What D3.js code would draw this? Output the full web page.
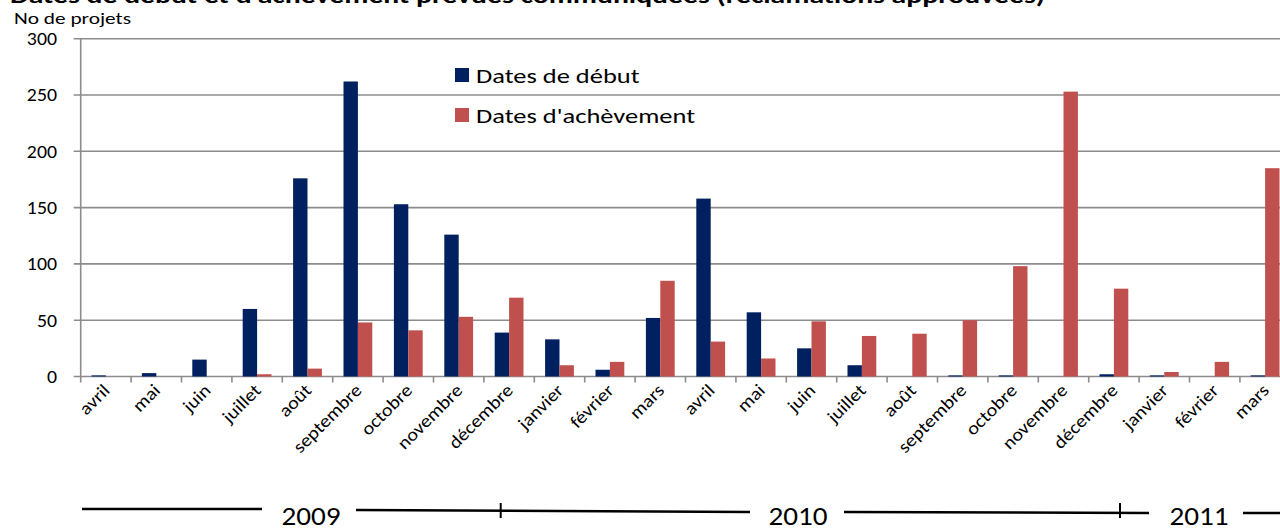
<!DOCTYPE html>
<html>
<head>
<meta charset="utf-8">
<script src="https://cdn.jsdelivr.net/npm/d3@7"></script>
<style>
  body { margin: 0; background: #fff; }
  svg { display: block; font-family: Carlito, Calibri, Lato, sans-serif; }
</style>
</head>
<body>
<svg id="chart" width="1280" height="530"></svg>
<script>
// months, April 2009 to March 2011
const months = ["avril", "mai", "juin", "juillet", "août", "septembre", "octobre", "novembre",
  "décembre", "janvier", "février", "mars", "avril", "mai", "juin", "juillet", "août",
  "septembre", "octobre", "novembre", "décembre", "janvier", "février", "mars"];

const startDates = [1, 3, 15, 60, 176, 262, 153, 126, 39, 33, 6, 52,
  158, 57, 25, 10, 0, 1, 1, 0, 2, 1, 0, 1];
const endDates = [0, 0, 0, 2, 7, 48, 41, 53, 70, 10, 13, 85,
  31, 16, 49, 36, 38, 50, 98, 253, 78, 4, 13, 185];

const seriesNames = ["Dates de début", "Dates d'achèvement"];
const yTicks = [0, 50, 100, 150, 200, 250, 300];
const years = ["2009", "2010", "2011"];

const colors = ["#002060", "#C0504D"];
const gridColor = "#8c8c8c";

const svg = d3.select("#chart");

const plotLeft = 80.7, plotRight = 1290.3, plotTop = 38.7, plotBottom = 376.5;

const x = d3.scaleBand()
  .domain(d3.range(months.length))
  .range([plotLeft, plotRight]);

const bw = x.bandwidth() / 3.5; // excel gap width 150%
const x1 = d3.scaleBand()
  .domain([0, 1])
  .range([(x.bandwidth() - 2 * bw) / 2, (x.bandwidth() + 2 * bw) / 2]);

const y = d3.scaleLinear().domain([0, 300]).range([plotBottom, plotTop]);

// the source picture is a bit wider than tall, so text is stretched
function stretch(sel, k) {
  sel.each(function () {
    const w = this.getComputedTextLength();
    d3.select(this).attr("textLength", w * k).attr("lengthAdjust", "spacingAndGlyphs");
  });
}

// title (cut at top in the original)
svg.append("text")
  .attr("x", 10)
  .attr("y", 3)
  .attr("font-weight", "bold")
  .attr("font-size", 22)
  .attr("textLength", 1035)
  .attr("lengthAdjust", "spacingAndGlyphs")
  .text("Dates de début et d'achèvement prévues communiquées (réclamations approuvées)");

svg.append("text")
  .attr("x", 14)
  .attr("y", 24)
  .attr("font-size", 16)
  .attr("textLength", 117)
  .attr("lengthAdjust", "spacingAndGlyphs")
  .text("No de projets");

// gridlines
svg.append("g")
  .selectAll("line")
  .data(yTicks)
  .join("line")
  .attr("x1", plotLeft - 7)
  .attr("x2", plotRight)
  .attr("y1", d => y(d))
  .attr("y2", d => y(d))
  .attr("stroke", gridColor)
  .attr("stroke-width", 1.6);

svg.append("g")
  .selectAll("text")
  .data(yTicks)
  .join("text")
  .attr("x", 57)
  .attr("y", d => y(d))
  .attr("dy", "0.36em")
  .attr("text-anchor", "end")
  .attr("font-size", 18)
  .text(d => d)
  .call(stretch, 1.1);

// bars
const series = [startDates, endDates];
series.forEach((vals, s) => {
  svg.append("g")
    .selectAll("rect")
    .data(vals)
    .join("rect")
    .attr("x", (d, i) => x(i) + x1(s))
    .attr("width", x1.bandwidth())
    .attr("y", d => y(d))
    .attr("height", d => y(0) - y(d))
    .attr("fill", colors[s]);
});

// axes
svg.append("line")
  .attr("x1", plotLeft).attr("x2", plotLeft)
  .attr("y1", plotTop).attr("y2", plotBottom)
  .attr("stroke", gridColor).attr("stroke-width", 1.6);

const bounds = d3.range(months.length + 1).map(i => i < months.length ? x(i) : x(i - 1) + x.step());
svg.append("g")
  .selectAll("line")
  .data(bounds)
  .join("line")
  .attr("x1", d => d).attr("x2", d => d)
  .attr("y1", plotBottom).attr("y2", plotBottom + 6)
  .attr("stroke", gridColor).attr("stroke-width", 1.6);

svg.append("g")
  .selectAll("text")
  .data(months)
  .join("text")
  .attr("transform", (d, i) => `translate(${x(i) + x.bandwidth() / 2 + 5},${plotBottom + 15}) rotate(-45)`)
  .attr("text-anchor", "end")
  .attr("font-size", 18)
  .text(d => d)
  .call(stretch, 1.12);

// legend
const legend = svg.append("g").attr("transform", "translate(455,68)");
seriesNames.forEach((name, s) => {
  legend.append("rect")
    .attr("x", 0).attr("y", s * 40)
    .attr("width", 14).attr("height", 14)
    .attr("fill", colors[s]);
  legend.append("text")
    .attr("x", 21).attr("y", s * 40 + 7)
    .attr("dy", "0.36em")
    .attr("font-size", 21)
    .text(name)
    .call(stretch, 1.26);
});

// year annotation drawn under the month labels
const yearLabelX = [311, 798, 1199];
const yearSegs = [
  [82, 509, 262, 509],
  [356, 510, 750, 512],
  [844, 512, 1149, 513],
  [1243, 513, 1285, 513]
];
const yearTicks = [500.7, 1120];

const ann = svg.append("g");
ann.selectAll("line.seg")
  .data(yearSegs)
  .join("line")
  .attr("class", "seg")
  .attr("x1", d => d[0]).attr("y1", d => d[1])
  .attr("x2", d => d[2]).attr("y2", d => d[3])
  .attr("stroke", "#000").attr("stroke-width", 2.5);
ann.selectAll("line.tk")
  .data(yearTicks)
  .join("line")
  .attr("class", "tk")
  .attr("x1", d => d).attr("x2", d => d)
  .attr("y1", 503).attr("y2", 518)
  .attr("stroke", "#000").attr("stroke-width", 2);
ann.selectAll("text")
  .data(years)
  .join("text")
  .attr("x", (d, i) => yearLabelX[i])
  .attr("y", 525)
  .attr("text-anchor", "middle")
  .attr("font-size", 27)
  .text(d => d)
  .call(stretch, 1.08);
</script>
</body>
</html>
